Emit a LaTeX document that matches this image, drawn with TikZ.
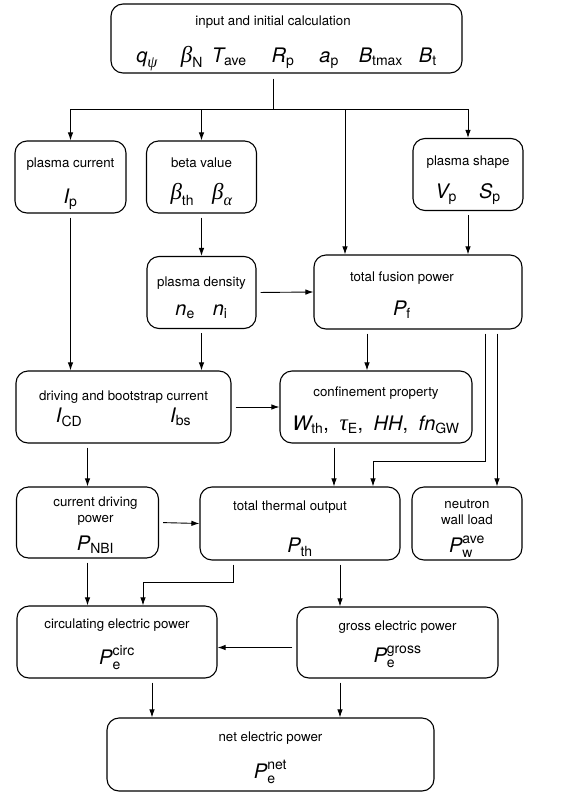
\documentclass[tikz,border=0pt]{standalone}
\usepackage{amsmath}
\usepackage{fontspec}
\setmainfont{TeX Gyre Heros}
\newfontfamily\grkfont[Scale=1.15]{Liberation Serif}
\usepackage{tikz}
\usetikzlibrary{arrows.meta}
\newcommand{\varfont}{\fontsize{20}{24}\selectfont}
\newcommand{\gk}[1]{\text{\grkfont\itshape #1}}
\newcommand{\lift}[1]{\rule{0pt}{#1}}

\begin{document}
\begin{tikzpicture}[x=1pt,y=-1pt]
\tikzstyle{every node}+=[inner sep=0pt]
\tikzstyle{box}=[draw, line width=1.1pt, rounded corners=12pt, align=center, font=\fontsize{13.3}{16}\selectfont]
\tikzstyle{flow}=[line width=0.9pt, shorten <=4pt, -{Latex[length=8pt,width=5.5pt]}]
\useasboundingbox (0,0) rectangle (573,793);

\node [box, minimum width=351pt, minimum height=69pt] (input) at (286.5,38.5) {\lift{18.6pt}input and initial calculation\hspace*{27pt}\\[17pt]{\varfont $\textit{q}_{\gk{ψ}}$\hspace{23pt}$\gk{β}_{\text{N}}$\hspace{9pt}$\textit{T}_{\text{ave}}$\hspace{25pt}$\textit{R}_{\text{p}}$\hspace{25pt}$\textit{a}_{\text{p}}$\hspace{20pt}$\textit{B}_{\text{tmax}}$\hspace{16pt}$\textit{B}_{\text{t}}$}};
\node [box, minimum width=111pt, minimum height=72pt] (current) at (70.5,177) {\lift{23.6pt}plasma current\\[17pt]{\varfont $\textit{I}_{\text{p}}$}};
\node [box, minimum width=110pt, minimum height=72pt] (beta) at (201.5,177) {\lift{18.6pt}beta value\\[15pt]{\varfont $\gk{β}_{\text{th}}$\hspace{18pt}$\gk{β}_{\gk{α}}$}};
\node [box, minimum width=110pt, minimum height=72pt] (shape) at (468,174.5) {\lift{21pt}plasma shape\\[14.5pt]{\varfont $\textit{V}_{\text{p}}$\hspace{22pt}$\textit{S}_{\text{p}}$}};
\node [box, minimum width=109pt, minimum height=72pt] (density) at (201.5,292.5) {\lift{20pt}plasma density\\[12.5pt]{\varfont $\textit{n}_{\text{e}}$\hspace{18pt}$\textit{n}_{\text{i}}$}};
\node [box, minimum width=208pt, minimum height=74pt] (fusion) at (418,292) {\lift{15.6pt}total fusion power\hspace*{32pt}\\[15.5pt]{\varfont $\textit{P}_{\text{f}}$\hspace*{32pt}}};
\node [box, minimum width=215pt, minimum height=72pt] (driving) at (123.5,407) {\lift{12.6pt}driving and bootstrap current\\[4pt]{\varfont $\textit{I}_{\text{CD}}$\hspace{88pt}$\textit{I}_{\text{bs}}$}};
\node [box, minimum width=192pt, minimum height=72pt] (confine) at (376,407) {\lift{16.6pt}confinement property\\[15pt]{\varfont $\textit{W}_{\text{th}}$,\hspace{5pt} $\gk{τ}_{\text{E}}$,\hspace{5pt} $\textit{HH}$,\hspace{5pt} $\textit{fn}_{\text{GW}}$}};
\node [box, minimum width=142pt, minimum height=71pt] (cdpower) at (87.5,522.5) {\lift{14.6pt}\hspace*{16pt}current driving\\\hspace*{16pt}power\\[10pt]{\varfont \hspace*{16pt}$\textit{P}_{\text{NBI}}$}};
\node [box, minimum width=200pt, minimum height=73pt] (thermal) at (300,523.5) {\lift{19.6pt}total thermal output\hspace*{20pt}\\[24pt]{\varfont $\textit{P}_{\text{th}}$}};
\node [box, minimum width=110pt, minimum height=73pt] (neutron) at (467,523.5) {\lift{19.6pt}neutron\\wall load\\[10pt]{\varfont $\textit{P}_{\text{w}}^{\text{ave}}$}};
\node [box, minimum width=200pt, minimum height=72pt] (circ) at (117,642) {\lift{14.6pt}circulating electric power\\[13pt]{\varfont $\textit{P}_{\text{e}}^{\text{circ}}$}};
\node [box, minimum width=201pt, minimum height=71pt] (gross) at (397.5,642.5) {\lift{13.6pt}gross electric power\\[11pt]{\varfont $\textit{P}_{\text{e}}^{\text{gross}}$}};
\node [box, minimum width=327pt, minimum height=73pt] (net) at (270.5,754.5) {\lift{16.6pt}net electric power\\[15pt]{\varfont $\textit{P}_{\text{e}}^{\text{net}}$}};

\coordinate (split) at (273,109);
\draw [line width=0.9pt, shorten <=5pt] ([xshift=-13.5pt]input.south) -- (split);
\draw [flow, shorten <=0pt] (split) -| (current.north);
\draw [flow, shorten <=0pt] (split) -| (shape.north);
\draw [flow, shorten <=0pt] (split -| beta.north) -- (beta.north);
\draw [flow, shorten <=0pt] ([xshift=-73pt]fusion.north |- split) -- ([xshift=-73pt]fusion.north);
\draw [flow] (beta.south) -- (density.north);
\draw [flow] (shape.south) -- (shape.south |- fusion.north);
\draw [flow] (density.east) -- (fusion.west);
\draw [flow] (current.south) -- (current.south |- driving.north);
\draw [flow] (density.south) -- (density.south |- driving.north);
\draw [flow] (driving.east) -- (confine.west);
\draw [flow] ([xshift=-9pt]confine.north |- fusion.south) -- ([xshift=-9pt]confine.north);
\draw [flow] ([xshift=67pt]fusion.south) |- ([xshift=73pt,yshift=25pt]thermal.north) -- ([xshift=73pt]thermal.north);
\draw [flow] ([xshift=79pt]fusion.south) -- ([xshift=79pt]fusion.south |- neutron.north);
\draw [flow] ([xshift=-42pt]confine.south) -- ([xshift=-42pt]confine.south |- thermal.north);
\draw [flow] (cdpower.north |- driving.south) -- (cdpower.north);
\draw [flow] (cdpower.east) -- (thermal.west);
\draw [flow] (cdpower.south) -- (cdpower.south |- circ.north);
\draw [flow] ([xshift=-67pt]thermal.south) |- ([xshift=26pt,yshift=23pt]circ.north) -- ([xshift=26pt]circ.north);
\draw [flow] ([xshift=40pt]thermal.south) -- ([xshift=40pt]thermal.south |- gross.north);
\draw [flow] ([yshift=-5pt]gross.west) -- ([yshift=-5pt]gross.west -| circ.east);
\draw [flow] ([xshift=35pt]circ.south) -- ([xshift=35pt]circ.south |- net.north);
\draw [flow] ([xshift=-57.5pt]gross.south) -- ([xshift=-57.5pt]gross.south |- net.north);
\end{tikzpicture}
\end{document}
